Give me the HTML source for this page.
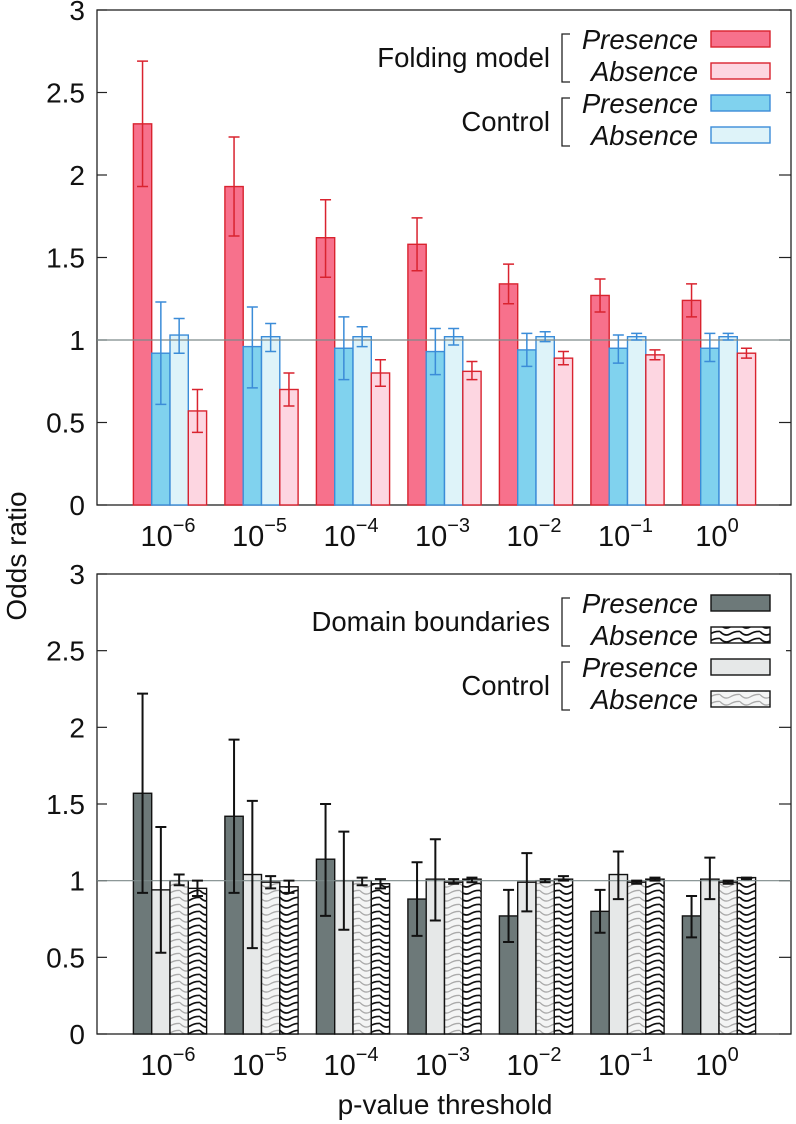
<!DOCTYPE html>
<html><head><meta charset="utf-8"><style>
html,body{margin:0;padding:0;background:#fff;}
svg{display:block;font-family:"Liberation Sans","DejaVu Sans",sans-serif;}
</style></head><body>
<svg id="chart" width="796" height="1124" viewBox="0 0 796 1124">
<defs>
<pattern id="waveBlack" width="20" height="7" patternUnits="userSpaceOnUse">
<rect width="20" height="7" fill="#fff"/>
<path d="M0 1.5 Q5 7 10 4 T20 1.5" stroke="#111" stroke-width="1.7" fill="none"/>
</pattern>
<pattern id="waveGrey" width="20" height="7" patternUnits="userSpaceOnUse">
<rect width="20" height="7" fill="#f4f5f5"/>
<path d="M0 1.5 Q5 7 10 4 T20 1.5" stroke="#aaa" stroke-width="1.3" fill="none"/>
</pattern>
</defs>
</svg>
<script>
const categories=["−6","−5","−4","−3","−2","−1","0"];
const yTicks=[0,0.5,1,1.5,2,2.5,3];
const yTickLabels=["0","0.5","1","1.5","2","2.5","3"];
// top panel
const foldPres=[2.31,1.93,1.62,1.58,1.34,1.27,1.24];
const foldPresLo=[1.93,1.63,1.38,1.42,1.22,1.17,1.14];
const foldPresHi=[2.69,2.23,1.85,1.74,1.46,1.37,1.34];
const ctrlPresT=[0.92,0.96,0.95,0.93,0.94,0.95,0.95];
const ctrlPresTLo=[0.61,0.71,0.76,0.79,0.84,0.86,0.87];
const ctrlPresTHi=[1.23,1.20,1.14,1.07,1.04,1.03,1.04];
const ctrlAbsT=[1.03,1.02,1.02,1.02,1.02,1.02,1.02];
const ctrlAbsTLo=[0.92,0.93,0.96,0.97,0.99,1.00,1.00];
const ctrlAbsTHi=[1.13,1.10,1.08,1.07,1.05,1.04,1.04];
const foldAbs=[0.57,0.70,0.80,0.81,0.89,0.91,0.92];
const foldAbsLo=[0.44,0.60,0.72,0.76,0.85,0.88,0.89];
const foldAbsHi=[0.70,0.80,0.88,0.87,0.93,0.94,0.95];
// bottom panel
const domPres=[1.57,1.42,1.14,0.88,0.77,0.80,0.77];
const domPresLo=[0.92,0.92,0.77,0.64,0.60,0.66,0.63];
const domPresHi=[2.22,1.92,1.50,1.12,0.94,0.94,0.90];
const ctrlPresB=[0.94,1.04,1.00,1.01,0.99,1.04,1.01];
const ctrlPresBLo=[0.53,0.56,0.68,0.74,0.80,0.88,0.88];
const ctrlPresBHi=[1.35,1.52,1.32,1.27,1.18,1.19,1.15];
const ctrlAbsB=[1.00,0.99,1.00,0.99,1.00,0.99,0.99];
const ctrlAbsBLo=[0.97,0.95,0.97,0.98,0.99,0.98,0.98];
const ctrlAbsBHi=[1.04,1.03,1.02,1.01,1.01,1.00,1.00];
const domAbs=[0.95,0.96,0.98,1.01,1.01,1.01,1.02];
const domAbsLo=[0.90,0.92,0.95,0.99,1.00,1.00,1.01];
const domAbsHi=[1.00,1.00,1.01,1.02,1.03,1.02,1.02];

const svg=document.getElementById('chart');
const NS='http://www.w3.org/2000/svg';
function mk(tag,attrs,parent){const e=document.createElementNS(NS,tag);for(const k in attrs)e.setAttribute(k,attrs[k]);(parent||svg).appendChild(e);return e;}
const L=97,R=791,pitch=91.5,c0=170,bw=18.3;
function xc(i){return c0+pitch*i;}

function panel(name,top,zero,series,legendTitle){
  const unit=(zero-top)/3;
  const y=v=>zero-v*unit;
  const g=mk('g',{});
  
  
  const frame=mk('rect',{x:L,y:top,width:R-L,height:zero-top,fill:'none',stroke:'#222','stroke-width':1.3},g);
  
  
  yTicks.forEach((t,k)=>{
    mk('line',{x1:L,x2:L+10,y1:y(t),y2:y(t),stroke:'#222','stroke-width':1.2},g);
    mk('line',{x1:R-12,x2:R,y1:y(t),y2:y(t),stroke:'#222','stroke-width':1.2},g);
    const tx=mk('text',{x:L-12,y:y(t)+10,'text-anchor':'end','font-size':28,fill:'#111'},g);
    tx.textContent=yTickLabels[k];
    
    
  });
  categories.forEach((c,i)=>{
    const tx=mk('text',{x:xc(i)-2,y:zero+41,'text-anchor':'middle','font-size':29,fill:'#111'},g);
    tx.innerHTML='10<tspan dy="-14" font-size="20">'+c+'</tspan>';
    
    
  });
  categories.forEach((c,i)=>{
    series.forEach((s,k)=>{
      const x=xc(i)-2*bw+k*bw;
      const b=mk('rect',{x:x,y:y(s.v[i]),width:bw,height:y(0)-y(s.v[i]),fill:s.fill,stroke:s.stroke,'stroke-width':1.4},g);
      
      
    });
  });
  const ref=mk('line',{x1:L,x2:R,y1:y(1),y2:y(1),stroke:'#7d8a8a','stroke-width':1.2},g);
  
  
  categories.forEach((c,i)=>{
    series.forEach((s,k)=>{
      const cx=xc(i)-2*bw+k*bw+bw/2;
      const eb=mk('path',{d:`M${cx} ${y(s.lo[i])}V${y(s.hi[i])}M${cx-5.5} ${y(s.lo[i])}h11M${cx-5.5} ${y(s.hi[i])}h11`,stroke:s.err,'stroke-width':s.ew,fill:'none'},g);
      
      
    });
  });
  const lg=mk('g',{},g);
  
  
  mk('rect',{x:560,y:top+14,width:226,height:130,fill:'#fff'},lg);
  const order=[0,3,1,2];
  const labels=['Presence','Absence','Presence','Absence'];
  order.forEach((k,j)=>{
    const s=series[k];
    const yy=top+21+j*32;
    const sw=mk('rect',{x:711,y:yy,width:59,height:16,fill:s.fill,stroke:s.stroke,'stroke-width':1.4},lg);
    
    
    const t=mk('text',{x:698,y:yy+18,'text-anchor':'end','font-size':27.5,'font-style':'italic',fill:'#111'},lg);
    t.textContent=labels[j];
    
    
  });
  [[legendTitle,top+16],['Control',top+80]].forEach(([txt,yy])=>{
    mk('path',{d:`M570 ${yy+8}h-8v48h8`,stroke:'#222','stroke-width':1.3,fill:'none'},lg);
    const t=mk('text',{x:550,y:yy+41,'text-anchor':'end','font-size':27.5,fill:'#111'},lg);
    t.textContent=txt;
    
    
  });
}
panel('top-panel',10,505,[
 {id:'folding-presence',v:foldPres,lo:foldPresLo,hi:foldPresHi,fill:'#f7718c',stroke:'#d9232f',err:'#d9232f',ew:1.5},
 {id:'control-presence',v:ctrlPresT,lo:ctrlPresTLo,hi:ctrlPresTHi,fill:'#80d2ee',stroke:'#3b8cd8',err:'#3b8cd8',ew:1.5},
 {id:'control-absence',v:ctrlAbsT,lo:ctrlAbsTLo,hi:ctrlAbsTHi,fill:'#def3f9',stroke:'#3b8cd8',err:'#3b8cd8',ew:1.5},
 {id:'folding-absence',v:foldAbs,lo:foldAbsLo,hi:foldAbsHi,fill:'#fdd6e1',stroke:'#d9232f',err:'#d9232f',ew:1.5}
],'Folding model');
panel('bottom-panel',574,1034,[
 {id:'domain-presence',v:domPres,lo:domPresLo,hi:domPresHi,fill:'#6d7979',stroke:'#111',err:'#111',ew:2},
 {id:'control-presence',v:ctrlPresB,lo:ctrlPresBLo,hi:ctrlPresBHi,fill:'#e6e8e8',stroke:'#111',err:'#111',ew:2},
 {id:'control-absence',v:ctrlAbsB,lo:ctrlAbsBLo,hi:ctrlAbsBHi,fill:'url(#waveGrey)',stroke:'#111',err:'#111',ew:2},
 {id:'domain-absence',v:domAbs,lo:domAbsLo,hi:domAbsHi,fill:'url(#waveBlack)',stroke:'#111',err:'#111',ew:2}
],'Domain boundaries');
const yt=mk('text',{x:0,y:0,'text-anchor':'middle','font-size':28,fill:'#111',transform:'translate(26,556) rotate(-90)'});
yt.textContent='Odds ratio';


const xt=mk('text',{x:445,y:1114,'text-anchor':'middle','font-size':28,fill:'#111'});
xt.textContent='p-value threshold';


</script>
</body></html>
